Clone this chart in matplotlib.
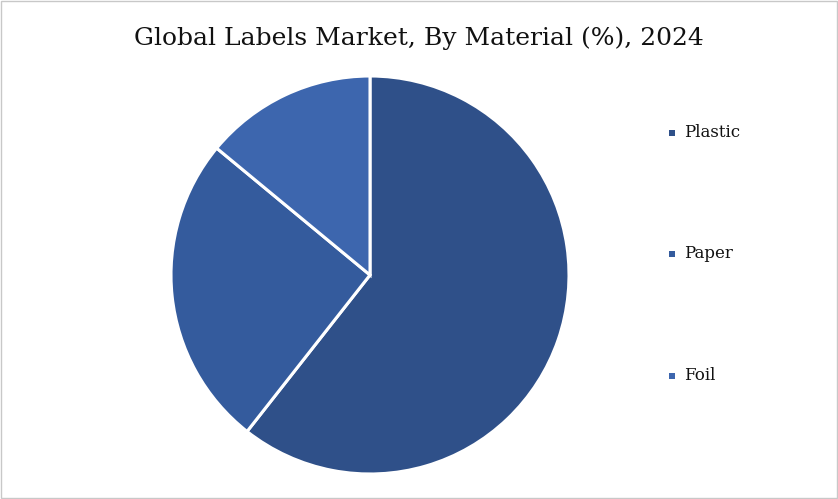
import matplotlib
matplotlib.use("Agg")
import matplotlib.pyplot as plt
from matplotlib.patches import Rectangle

categories = ["Plastic", "Paper", "Foil"]
shares = [60.6, 25.4, 14.0]
colors = ["#2F5089", "#345B9D", "#3D66AE"]
title = "Global Labels Market, By Material (%), 2024"

W, H = 838, 499
fig = plt.figure(figsize=(W / 100, H / 100), dpi=100)
fig.patch.set_facecolor("white")

cx, cy, r = 370, 275, 199
ax = fig.add_axes([(cx - r) / W, (H - cy - r) / H, 2 * r / W, 2 * r / H])
ax.pie(shares, colors=colors, startangle=90, counterclock=False,
       wedgeprops=dict(edgecolor="white", linewidth=2.2))
ax.set_xlim(-1, 1)
ax.set_ylim(-1, 1)

fig.text(419 / W, 1 - 38 / H, title, ha="center", va="center",
         fontsize=18, family="DejaVu Serif", color="#111111")

legend_y = [133, 254, 376]
for lab, col, y in zip(categories, colors, legend_y):
    fig.add_artist(Rectangle(((672 - 3) / W, 1 - (y + 3) / H), 6 / W, 6 / H,
                             transform=fig.transFigure, facecolor=col,
                             edgecolor="none"))
    fig.text(684 / W, 1 - y / H, lab, ha="left", va="center",
             fontsize=12, family="DejaVu Serif", color="#111111")

fig.add_artist(Rectangle((0.5 / W, 1.0 / H), 1 - 1.5 / W, 1 - 1.5 / H,
                         transform=fig.transFigure, facecolor="none",
                         edgecolor="#C8C8C8", linewidth=1))

fig.savefig("out.png", dpi=100)
